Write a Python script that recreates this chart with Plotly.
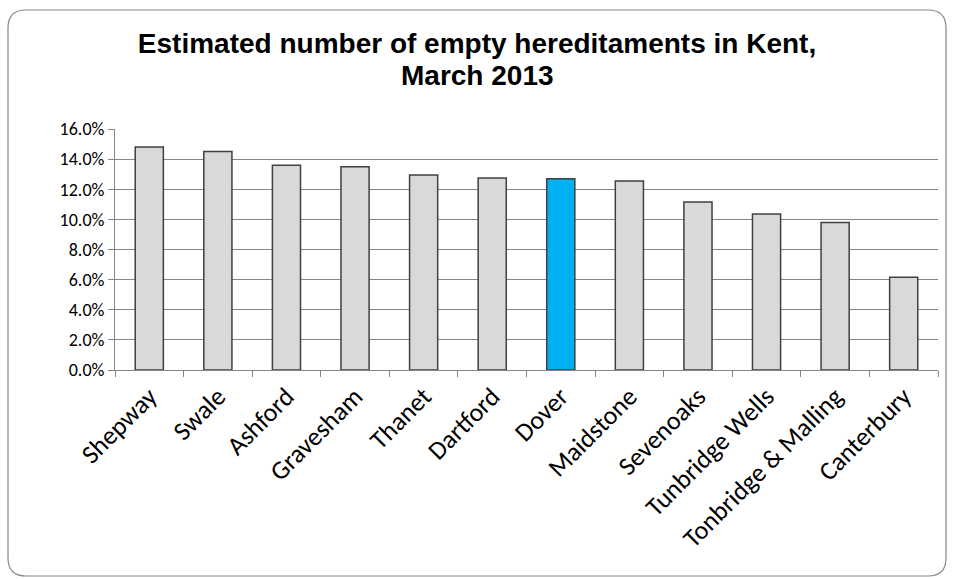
import plotly.graph_objects as go

# Empty hereditaments by district, Kent, March 2013 (% of total)
districts = ['Shepway', 'Swale', 'Ashford', 'Gravesham', 'Thanet', 'Dartford', 'Dover',
             'Maidstone', 'Sevenoaks', 'Tunbridge Wells', 'Tonbridge & Malling', 'Canterbury']
empty_pct = [14.8, 14.5, 13.6, 13.5, 12.95, 12.75, 12.7, 12.55, 11.15, 10.35, 9.8, 6.15]
highlight = 'Dover'
title_lines = ['Estimated number of empty hereditaments in Kent,', 'March 2013']

W, H = 954, 579
ML, MR, MT, MB = 115, 16, 129, 209
PW, PH = W - ML - MR, H - MT - MB
TITLE_FONT = dict(family='Liberation Sans, Arial', size=28, color='black')


def px(x, y):
    # pixel -> paper coordinates
    return (x - ML) / PW, (H - MB - y) / PH


def rounded_box(x0, y0, x1, y1, r):
    pts = [
        ('M', px(x0 + r, y0)), ('L', px(x1 - r, y0)), ('Q', px(x1, y0), px(x1, y0 + r)),
        ('L', px(x1, y1 - r)), ('Q', px(x1, y1), px(x1 - r, y1)),
        ('L', px(x0 + r, y1)), ('Q', px(x0, y1), px(x0, y1 - r)),
        ('L', px(x0, y0 + r)), ('Q', px(x0, y0), px(x0 + r, y0)),
    ]
    out = []
    for p in pts:
        cmd, coords = p[0], p[1:]
        out.append(cmd + ' '.join(f'{a:.5f},{b:.5f}' for a, b in coords))
    return ' '.join(out) + ' Z'


colors = ['#00B0F0' if d == highlight else '#D9D9D9' for d in districts]

fig = go.Figure(go.Bar(
    x=districts,
    y=empty_pct,
    marker=dict(color=colors, line=dict(color='#404040', width=1.5)),
))

fig.update_layout(
    width=W, height=H,
    margin=dict(l=ML, r=MR, t=MT, b=MB),
    paper_bgcolor='white', plot_bgcolor='white',
    bargap=0.59,
    showlegend=False,
    # Excel's title has tight line spacing, so the second line is an annotation
    title=dict(
        text='<b>' + title_lines[0] + '</b>',
        x=0.5, xanchor='center', y=1 - 43 / H, yanchor='middle',
        font=TITLE_FONT,
    ),
    annotations=[dict(
        text='<b>' + title_lines[1] + '</b>',
        xref='paper', yref='paper', x=0.5 - (ML - MR) / 2 / PW, y=px(0, 76)[1],
        xanchor='center', yanchor='middle', showarrow=False,
        font=TITLE_FONT,
    )],
    xaxis=dict(
        tickangle=-45,
        tickfont=dict(family='Calibri, Carlito, Lato, sans-serif', size=26, color='black'),
        ticks='outside', tickson='boundaries', ticklen=6, tickcolor='#868686',
        showline=True, linecolor='#868686', linewidth=1,
        showgrid=False,
    ),
    yaxis=dict(
        range=[0, 16], dtick=2, tickformat='.1f', ticksuffix='%',
        tickfont=dict(family='Calibri, Carlito, Lato, sans-serif', size=18, color='black'),
        ticks='outside', ticklen=6, tickcolor='#868686',
        showline=True, linecolor='#868686', linewidth=1,
        showgrid=True, gridcolor='#868686', gridwidth=1,
        zeroline=False,
    ),
    shapes=[dict(
        type='path', xref='paper', yref='paper',
        path=rounded_box(8, 10, 946, 576, 18),
        line=dict(color='#868686', width=1.2),
        layer='below',
    )],
)

# drop the browser's default body margin so the figure sits at the page origin
fig.write_html('out.html', config={'displayModeBar': False},
               post_script="document.body.style.margin='0';")
